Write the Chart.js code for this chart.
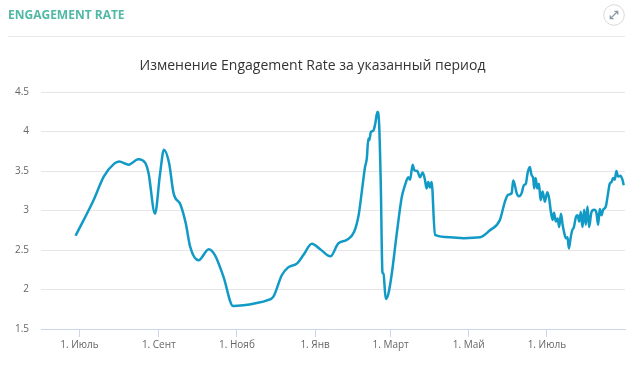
<!DOCTYPE html>
<html>
<head>
<meta charset="utf-8">
<script src="https://cdn.jsdelivr.net/npm/chart.js@4/dist/chart.umd.min.js"></script>
<style>
  html, body { margin:0; padding:0; background:#fff; }
  #wrap { position:relative; width:638px; height:366px; overflow:hidden; }
  #hdr { position:absolute; left:8px; top:6px; font-family:"Open Sans", sans-serif; font-weight:700; font-size:12px; color:#52b8a6; letter-spacing:0; }
  #hline { position:absolute; left:8px; top:36px; width:617px; height:1px; background:#e8e8e8; }
  #icon { position:absolute; left:603px; top:4px; }
  canvas { position:absolute; left:0; top:0; }
</style>
</head>
<body>
<div id="wrap">
  <canvas id="c" width="638" height="366"></canvas>
  <div id="hdr">ENGAGEMENT RATE</div>
  <div id="hline"></div>
  <svg id="icon" width="22" height="22" viewBox="0 0 22 22">
    <circle cx="11" cy="11" r="10.3" fill="#fff" stroke="#d9d9d9" stroke-width="1"/>
    <line x1="7.5" y1="14.5" x2="14.5" y2="7.5" stroke="#8a97a8" stroke-width="1.3"/>
    <polyline points="11.5,7.3 14.7,7.3 14.7,10.5" fill="none" stroke="#8a97a8" stroke-width="1.3"/>
    <polyline points="7.3,11.5 7.3,14.7 10.5,14.7" fill="none" stroke="#8a97a8" stroke-width="1.3"/>
  </svg>
</div>
<script>
// Day offsets counted from 1 July (first year)
const tickDays = [0, 62, 123, 184, 243, 304, 365];
const tickLabels = ["1. Июль", "1. Сент", "1. Нояб", "1. Янв", "1. Март", "1. Май", "1. Июль"];
const yTicks = [1.5, 2, 2.5, 3, 3.5, 4, 4.5];

const days = [
  -3, 11, 19, 27, 31, 38.5, 46, 51.5, 54, 59, 63, 66, 70, 73.5, 79, 83, 86.5, 93, 101, 106,
  112.5, 120, 128, 138.5, 146, 151.5, 158, 163, 170, 175, 181.5, 188, 196, 202, 209, 214.5,
  218, 220.5, 223, 224.4, 225.6, 226.4, 227.5, 229.5, 231, 232.7, 234, 235.3, 236.6, 237.4,
  239.2, 241.3, 243.9, 247.8, 251.7, 254.2, 256.8, 258.2, 260.2, 261.5, 263.8, 266, 268,
  269.8, 271, 272.4, 273.7, 275, 277.6, 289.4, 300, 312.7, 320.5, 328.3, 332.2, 334.8,
  337.5, 338.7, 340, 341.4, 343.2, 345.3, 347, 348.6, 349.9, 351.7, 353, 354.3, 355.1,
  356.2, 357.5, 358.8, 360.1, 361.7, 363.4, 365.3, 366.8, 367.9, 369.5, 370.5, 372.1,
  373.4, 374.6, 376, 377.3, 378.5, 379.9, 381.1, 382.2, 383.5, 384.8, 386.1, 387.7, 389,
  390.2, 391.5, 392.8, 394.1, 395.4, 396.7, 398, 399.8, 401.9, 403.7, 405, 406.3, 407.6,
  408.9, 411, 412.8, 414.1, 415.5, 416.7, 418, 419.3, 420.6, 422.4, 424, 425
];
const engagement = [
  2.68, 3.13, 3.43, 3.59, 3.62, 3.58, 3.65, 3.60, 3.47, 2.96, 3.47, 3.77, 3.60, 3.22, 3.07, 2.84, 2.54, 2.37, 2.51, 2.43,
  2.16, 1.79, 1.80, 1.83, 1.86, 1.91, 2.18, 2.28, 2.33, 2.44, 2.58, 2.51, 2.42, 2.58, 2.63, 2.73,
  2.94, 3.24, 3.55, 3.66, 3.91, 3.89, 3.99, 4.01, 4.10, 4.25, 4.10, 3.34, 2.22, 2.20,
  1.88, 1.95, 2.20, 2.71, 3.17, 3.32, 3.42, 3.39, 3.58, 3.51, 3.50, 3.42, 3.48,
  3.39, 3.28, 3.36, 3.29, 3.36, 2.69, 2.66, 2.65, 2.66, 2.75, 2.88, 3.11, 3.20,
  3.22, 3.38, 3.32, 3.22, 3.18, 3.22, 3.32, 3.34, 3.47, 3.55, 3.45, 3.41, 3.28,
  3.41, 3.28, 3.34, 3.13, 3.24, 3.11, 3.23, 3.15, 3.01, 2.88, 2.97, 2.86,
  2.90, 2.79, 2.96, 2.82, 2.72, 2.65, 2.66, 2.52, 2.65, 2.75, 2.79, 2.92, 2.94,
  2.86, 2.98, 2.79, 3.01, 2.82, 3.05, 2.79, 2.98, 3.01, 2.97, 2.82, 3.02, 2.94,
  3.01, 3.05, 3.22, 3.34, 3.36, 3.41, 3.39, 3.50, 3.43, 3.44, 3.39, 3.32
];

const points = days.map((d, i) => ({ x: d, y: engagement[i] }));

new Chart(document.getElementById('c'), {
  type: 'line',
  data: {
    datasets: [{
      data: points,
      borderColor: '#129ac6',
      borderWidth: 2.5,
      pointRadius: 0,
      fill: false,
      cubicInterpolationMode: 'monotone'
    }]
  },
  options: {
    responsive: false,
    devicePixelRatio: 1,
    animation: false,
    layout: { padding: { left: 0, right: 13, top: 0, bottom: 0 } },
    plugins: {
      legend: { display: false },
      tooltip: { enabled: false },
      title: {
        display: true,
        text: 'Изменение Engagement Rate за указанный период',
        color: '#333333',
        font: { family: '"Open Sans", sans-serif', size: 14, weight: 'normal' },
        padding: { top: 58, bottom: 17.2 }
      }
    },
    scales: {
      x: {
        type: 'linear',
        min: -30,
        max: 426,
        afterBuildTicks: (s) => { s.ticks = tickDays.map(v => ({ value: v })); },
        afterFit: (s) => { s.height = 37; },
        ticks: {
          callback: (v) => { const i = tickDays.indexOf(v); return i >= 0 ? tickLabels[i] : ''; },
          color: '#666666',
          font: { family: '"Open Sans", sans-serif', size: 10 },
          maxRotation: 0,
          autoSkip: false,
          padding: 2
        },
        grid: { drawOnChartArea: false, drawTicks: true, tickLength: 8, color: '#ccd6eb' },
        border: { color: '#ccd6eb', width: 1 }
      },
      y: {
        min: 1.5,
        max: 4.5,
        afterBuildTicks: (s) => { s.ticks = yTicks.map(v => ({ value: v })); },
        afterFit: (s) => { s.width = 41; },
        ticks: {
          callback: (v) => String(v),
          color: '#666666',
          font: { family: '"Open Sans", sans-serif', size: 10 },
          padding: 12
        },
        grid: { color: '#e6e6e6', drawTicks: false },
        border: { display: false }
      }
    }
  }
});
</script>
</body>
</html>
